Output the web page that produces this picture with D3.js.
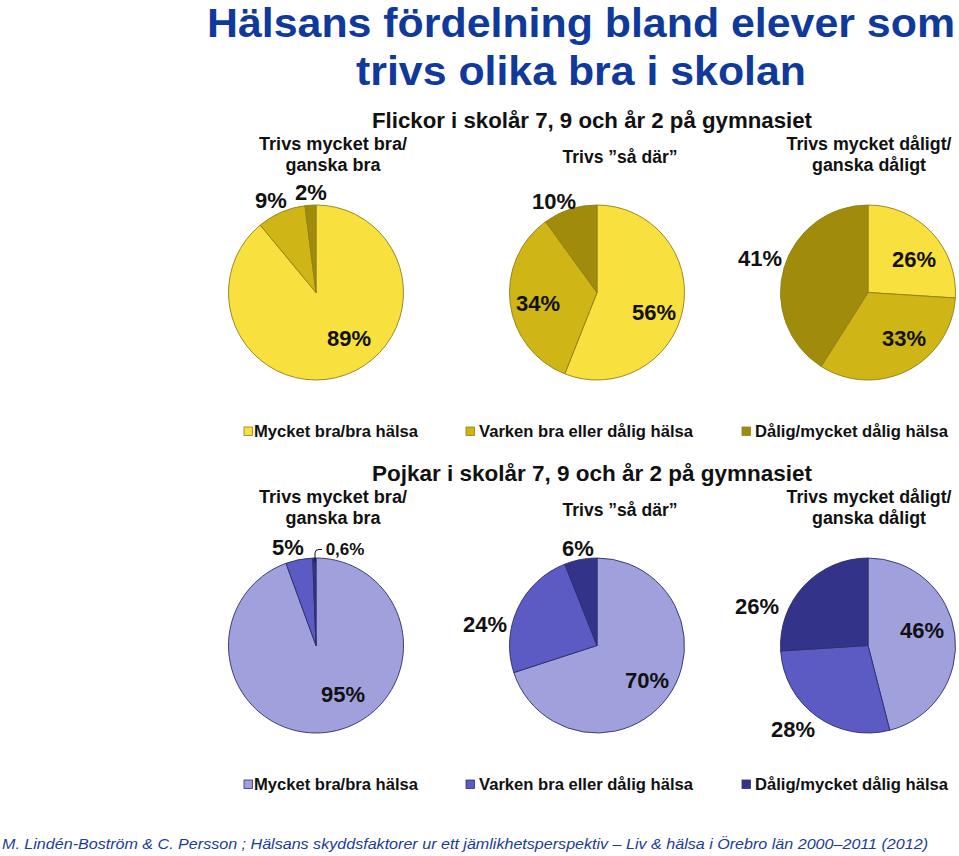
<!DOCTYPE html>
<html><head><meta charset="utf-8">
<script src="https://cdn.jsdelivr.net/npm/d3@7"></script>
<style>
body{margin:0;background:#fff;}
text{font-family:"Liberation Sans",Arial,sans-serif;}
</style></head>
<body><svg id="c" width="959" height="856"></svg>
<script>
// ---- data ----
const titleLines = ["Hälsans fördelning bland elever som", "trivs olika bra i skolan"];
const groupTitles = ["Flickor i skolår 7, 9 och år 2 på gymnasiet", "Pojkar i skolår 7, 9 och år 2 på gymnasiet"];
const pieHeaders = [["Trivs mycket bra/", "ganska bra"], ["Trivs \u201dså där\u201d"], ["Trivs mycket dåligt/", "ganska dåligt"]];
const healthCategories = ["Mycket bra/bra hälsa", "Varken bra eller dålig hälsa", "Dålig/mycket dålig hälsa"];
const girlsValues = [[89, 9, 2], [56, 34, 10], [26, 33, 41]];
const girlsLabels = [["89%", "9%", "2%"], ["56%", "34%", "10%"], ["26%", "33%", "41%"]];
const boysValues = [[95, 5, 0.6], [70, 24, 6], [46, 28, 26]];
const boysLabels = [["95%", "5%", "0,6%"], ["70%", "24%", "6%"], ["46%", "28%", "26%"]];
const footerText = "M. Lindén-Boström & C. Persson ; Hälsans skyddsfaktorer ur ett jämlikhetsperspektiv \u2013 Liv & hälsa i Örebro län 2000\u20132011 (2012)";

// ---- layout / style ----
const girlsColors = ["#F8E03E", "#CFB516", "#A08B0A"];
const boysColors = ["#A0A0DC", "#5B5BC3", "#333389"];
const girlsStroke = "#8f7f18", boysStroke = "#2d2d6e";
const pieCx = [316, 597, 868];
const pieR = 87.5;
const headerCx = [333, 620, 869];
// label offsets (dx, dy baseline) relative to pie centre
const girlsLabelPos = [[[33, 53], [-45, -85], [-5, -93]], [[57, 27], [-59, 18], [-43, -84]], [[46, -26], [36, 53], [-108, -27]]];
const boysLabelPos = [[[27, 56], [-28, -91], [29, -91]], [[50, 42], [-112, -14], [-19, -90]], [[54, -8], [-75, 91], [-111, -32]]];

const svg = d3.select("#c");
const blue = "#0F3A9B";

// title
svg.append("text").attr("x", 581).attr("y", 37).attr("text-anchor", "middle")
  .attr("font-size", 41).attr("font-weight", "bold").attr("fill", blue)
  .attr("textLength", 748).attr("lengthAdjust", "spacingAndGlyphs").text(titleLines[0]);
svg.append("text").attr("x", 581).attr("y", 85).attr("text-anchor", "middle")
  .attr("font-size", 41).attr("font-weight", "bold").attr("fill", blue)
  .attr("textLength", 450).attr("lengthAdjust", "spacingAndGlyphs").text(titleLines[1]);

const pie = d3.pie().sort(null).value(d => d);
const arc = d3.arc().innerRadius(0).outerRadius(pieR);

function drawGroup(gi, values, labels, labelPos, colors, stroke, yOff) {
  const g = svg.append("g");
  g.append("text").attr("x", 592).attr("y", 128 + yOff).attr("text-anchor", "middle")
    .attr("font-size", 22).attr("font-weight", "bold").attr("fill", "#111")
    .attr("textLength", 440).attr("lengthAdjust", "spacingAndGlyphs").text(groupTitles[gi]);
  // headers
  const hy = [[150, 171], [163], [150, 171]];
  const hw = [[148, 95], [115], [165, 114]];
  pieHeaders.forEach((lines, i) => {
    lines.forEach((ln, j) => {
      g.append("text").attr("x", headerCx[i]).attr("y", hy[i][j] + yOff).attr("text-anchor", "middle")
        .attr("font-size", 18).attr("font-weight", "bold").attr("fill", "#111")
        .attr("textLength", hw[i][j]).attr("lengthAdjust", "spacingAndGlyphs").text(ln);
    });
  });
  // pies
  values.forEach((vals, i) => {
    const cy = 292.5 + yOff;
    const pg = g.append("g").attr("transform", `translate(${pieCx[i]},${cy})`);
    pg.selectAll("path").data(pie(vals)).enter().append("path")
      .attr("d", arc).attr("fill", (d, k) => colors[k])
      .attr("stroke", stroke).attr("stroke-width", 0.9);
    labels[i].forEach((lb, k) => {
      const small = lb === "0,6%";
      g.append("text").attr("x", pieCx[i] + labelPos[i][k][0]).attr("y", cy + labelPos[i][k][1])
        .attr("text-anchor", "middle").attr("font-size", small ? 17 : 22).attr("font-weight", "bold")
        .attr("fill", "#111").text(lb);
    });
  });
  // legend
  const lx = [244, 466, 742];
  const tx = [254, 479, 755];
  const tw = [164, 214, 193];
  const ly = 437 + yOff;
  healthCategories.forEach((c, k) => {
    g.append("rect").attr("x", lx[k]).attr("y", ly - 10).attr("width", 8.5).attr("height", 8.5)
      .attr("fill", colors[k]).attr("stroke", stroke).attr("stroke-width", 0.8);
    g.append("text").attr("x", tx[k]).attr("y", ly).attr("font-size", 16.5).attr("font-weight", "bold")
      .attr("fill", "#111").attr("textLength", tw[k]).attr("lengthAdjust", "spacingAndGlyphs").text(c);
  });
}

drawGroup(0, girlsValues, girlsLabels, girlsLabelPos, girlsColors, girlsStroke, 0);
drawGroup(1, boysValues, boysLabels, boysLabelPos, boysColors, boysStroke, 353);

// leader line for 0,6%
svg.append("path").attr("d", "M315,562 L315,553 Q315,549.5 319,549.5 L322,549.5")
  .attr("fill", "none").attr("stroke", "#111").attr("stroke-width", 1);

// footer
svg.append("text").attr("x", 2).attr("y", 849).attr("font-size", 15.5).attr("font-style", "italic")
  .attr("fill", "#1B3C9C").attr("textLength", 926).attr("lengthAdjust", "spacingAndGlyphs").text(footerText);
</script></body></html>
